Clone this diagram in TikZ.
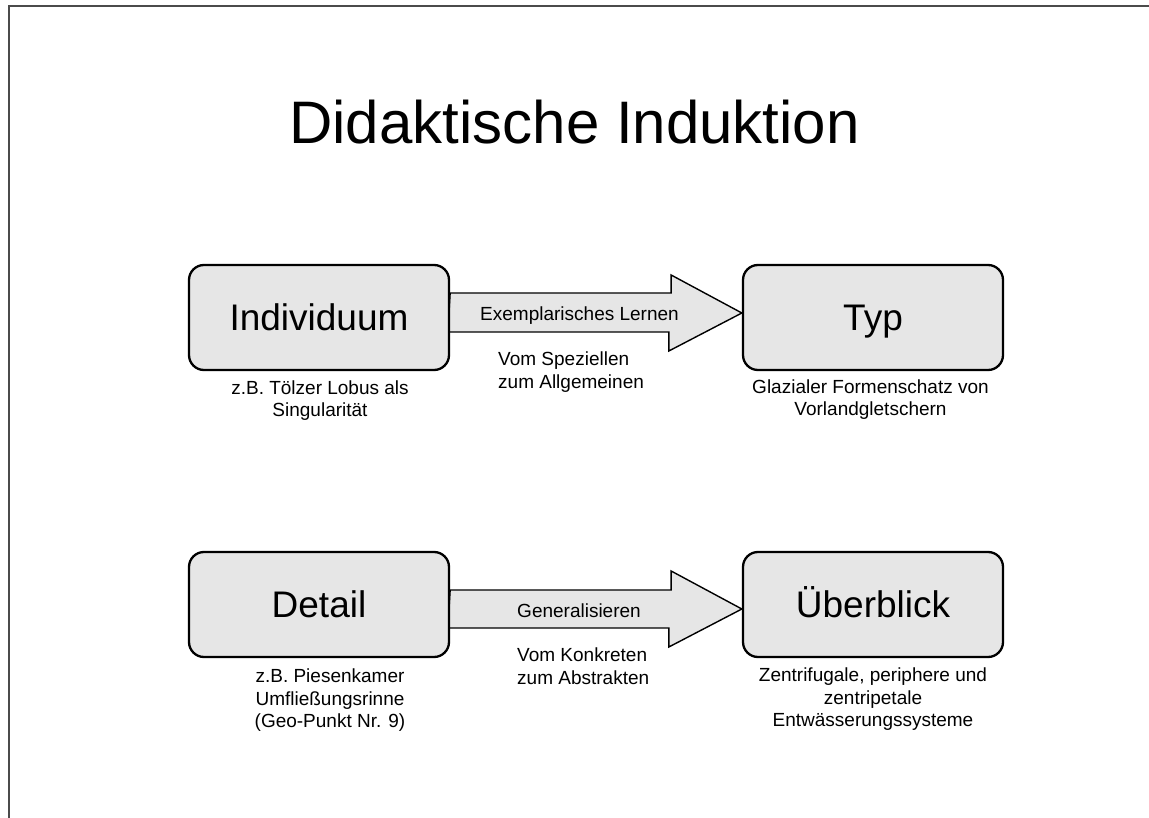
\documentclass[tikz,border=0pt]{standalone}
\usepackage{fontspec}
\setmainfont{Liberation Sans}
\usetikzlibrary{calc,backgrounds}
\definecolor{boxfill}{RGB}{230,230,230}
\definecolor{framegray}{RGB}{75,75,75}
\begin{document}
\begin{tikzpicture}[x=1pt,y=-1pt,
  conceptbox/.style={draw=black, line width=2.3pt, fill=boxfill, rounded corners=15pt,
    minimum width=260pt, minimum height=105pt, inner sep=0pt,
    font=\fontsize{37}{44}\selectfont, text height=26.5pt, text depth=0pt},
  bigarrow/.style={draw=black, line width=1.4pt, fill=boxfill, line join=miter},
  captext/.style={align=center, anchor=north, inner sep=0pt,
    font=\fontsize{19}{22.5}\selectfont, execute at begin node={\rule{0pt}{15pt}}},
  subtext/.style={align=left, anchor=north west, inner sep=0pt,
    font=\fontsize{19}{22.5}\selectfont, execute at begin node={\rule{0pt}{15pt}}},
  arrowlabel/.style={anchor=base, inner sep=0pt, font=\fontsize{19}{22.5}\selectfont},
  framelines/.style={draw=framegray, line width=2pt}
]
\useasboundingbox (0,0) rectangle (1149,818);
\draw[framelines] (1149,6.5) -- (8.8,6.5) -- (8.8,818);

\node[anchor=base, inner sep=0pt, font=\fontsize{60}{72}\selectfont] (title) at (574.5,144) {Didaktische Induktion};

\node[conceptbox] (ind) at (319,317.5) {Individuum};
\node[conceptbox] (typ) at (873,317.5) {Typ};
\node[conceptbox] (det) at (319,604.5) {Detail};
\node[conceptbox] (ueb) at (873,604.5) {Überblick};

\begin{scope}[on background layer]
\draw[bigarrow] ($(ind.east)+(0,-24.5)$) -- ++(221,0) -- ++(0,-18) -- ($(typ.west)+(0,-4.5)$) -- ++(-73,38) -- ++(0,-19) -- ++(-221,0) -- cycle;
\draw[bigarrow] ($(det.east)+(0,-14.5)$) -- ++(221,0) -- ++(0,-19) -- ($(ueb.west)+(0,4.5)$) -- ++(-73,38) -- ++(0,-19) -- ++(-221,0) -- cycle;
\end{scope}

\node[arrowlabel] (l1) at (579.5,321) {Exemplarisches Lernen};
\node[arrowlabel] (l2) at (579,617) {Generalisieren};
\node[subtext] (s1) at (498,352) {Vom Speziellen\\zum Allgemeinen};
\node[subtext] (s2) at (517,648) {Vom Konkreten\\zum Abstrakten};

\node[captext] (c1) at (320,380.5) {z.B. Tölzer Lobus als\\Singularität};
\node[captext] (c2) at (870.5,379.5) {Glazialer Formenschatz von\\Vorlandgletschern};
\node[captext] (c3) at (330,669) {z.B. Piesenkamer\\Umfließungsrinne\\(Geo-Punkt Nr. 9)};
\node[captext] (c4) at (873,668) {Zentrifugale, periphere und\\zentripetale\\Entwässerungssysteme};
\end{tikzpicture}
\end{document}
